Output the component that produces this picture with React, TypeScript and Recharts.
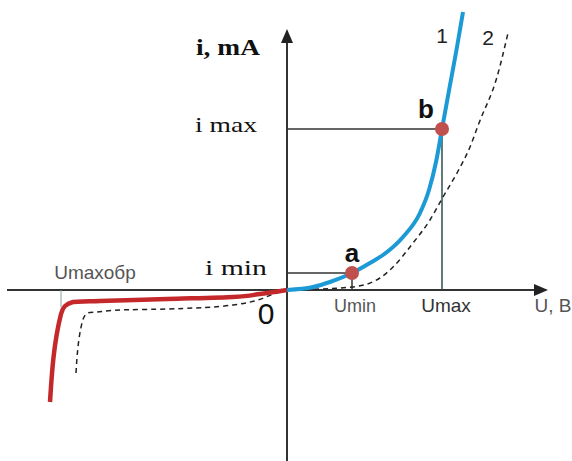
import React from "react";
import { ComposedChart, Line, XAxis, YAxis, ReferenceLine, ReferenceDot } from "recharts";

// Forward branch, curve 1 (U, i)
const fwd1U = [0, 26, 43, 65, 83, 96, 116, 133, 142, 149, 155, 163, 170, 176];
const fwd1I = [0, 3, 8, 17, 27, 35, 53, 77, 100, 128, 161, 205, 243, 278];
// Forward branch, curve 2 (dashed)
const fwd2U = [0, 65, 93, 106, 126, 143, 156, 170, 183, 192, 210, 221];
const fwd2I = [0, 3, 12, 23, 47, 70, 93, 117, 143, 167, 213, 257];
// Reverse branch, curve 1 (red)
const rev1U = [-237, -226, -222, -214, -187, -120, -54, -27, 0];
const rev1I = [-112, -24, -16, -12, -11, -9, -7, -4, 0];
// Reverse branch, curve 2 (dashed)
const rev2U = [-211, -205, -200, -190, -167, -120, -54, -10, 0];
const rev2I = [-83, -33, -23, -22, -20, -19, -15, -3, 0];

// Key points
const Umin = 65, Imin = 17;
const Umax = 155, Imax = 161;
const UmaxRev = -226, IrevTick = -17;

const zip = (u: number[], i: number[]) => u.map((v, k) => ({ u: v, i: i[k] }));
const d1 = zip(fwd1U, fwd1I);
const d2 = zip(fwd2U, fwd2I);
const r1 = zip(rev1U, rev1I);
const r2 = zip(rev2U, rev2I);

const X_DOMAIN: [number, number] = [-287, 285];
const Y_DOMAIN: [number, number] = [-171, 290];

const ArrowLine = (dir: "x" | "y") => (p: any) => {
  const { x1, y1, x2, y2 } = p;
  if (dir === "x") {
    const tx = Math.max(x1, x2), ty = y1;
    return (
      <g>
        <line x1={Math.min(x1, x2)} y1={y1} x2={tx - 6} y2={y2} stroke="#333" strokeWidth={2} />
        <polygon points={`${tx},${ty} ${tx - 14},${ty - 6} ${tx - 14},${ty + 6}`} fill="#222" />
      </g>
    );
  }
  const tx = x1, ty = Math.min(y1, y2);
  return (
    <g>
      <line x1={x1} y1={Math.max(y1, y2)} x2={x2} y2={ty + 6} stroke="#333" strokeWidth={2} />
      <polygon points={`${tx},${ty} ${tx - 6},${ty + 14} ${tx + 6},${ty + 14}`} fill="#222" />
    </g>
  );
};

type TL = {
  u: number; i: number; text: string; size: number; family: string;
  weight?: string; fill?: string; len?: number;
};

const labels: TL[] = [
  { u: -59, i: 235, text: "i, mA", size: 23, family: "Liberation Serif", weight: "bold", fill: "#111", len: 64 },
  { u: -61, i: 158, text: "i max", size: 22, family: "Liberation Serif", fill: "#111", len: 62 },
  { u: -51, i: 15, text: "i min", size: 22, family: "Liberation Serif", fill: "#111", len: 62 },
  { u: -192, i: 11, text: "Umaxобр", size: 19, family: "Liberation Sans", fill: "#555" },
  { u: -21, i: -34, text: "0", size: 30, family: "Liberation Sans", fill: "#111" },
  { u: 68, i: -22, text: "Umin", size: 18, family: "Liberation Sans", fill: "#555" },
  { u: 159, i: -22, text: "Umax", size: 19, family: "Liberation Sans", fill: "#333" },
  { u: 266, i: -22, text: "U, B", size: 19, family: "Liberation Sans", fill: "#555" },
  { u: 155, i: 247, text: "1", size: 21, family: "Liberation Sans", fill: "#222" },
  { u: 201, i: 245, text: "2", size: 21, family: "Liberation Sans", fill: "#222" },
  { u: 65, i: 28, text: "a", size: 26, family: "Liberation Sans", weight: "bold", fill: "#111" },
  { u: 139, i: 172, text: "b", size: 26, family: "Liberation Sans", weight: "bold", fill: "#111" },
];

const textShape = (l: TL) => (p: any) => (
  <text
    x={p.cx}
    y={p.cy}
    textAnchor="middle"
    fontSize={l.size}
    fontFamily={l.family}
    fontWeight={l.weight || "normal"}
    fill={l.fill}
    {...(l.len ? { textLength: l.len, lengthAdjust: "spacingAndGlyphs" } : {})}
  >
    {l.text}
  </text>
);

export default function App() {
  return (
    <div style={{ position: "absolute", left: 0, top: 0, background: "#fff" }}>
      <ComposedChart width={572} height={461} margin={{ top: 0, right: 0, bottom: 0, left: 0 }}>
        <XAxis type="number" dataKey="u" domain={X_DOMAIN} hide allowDataOverflow />
        <YAxis type="number" dataKey="i" domain={Y_DOMAIN} hide allowDataOverflow />
        {/* axes */}
        <ReferenceLine segment={[{ x: -280, y: 0 }, { x: 261, y: 0 }]} shape={ArrowLine("x")} ifOverflow="visible" />
        <ReferenceLine segment={[{ x: 0, y: -171 }, { x: 0, y: 261 }]} shape={ArrowLine("y")} ifOverflow="visible" />
        {/* guide lines */}
        <ReferenceLine segment={[{ x: 0, y: Imax }, { x: Umax, y: Imax }]} stroke="#333" strokeWidth={1.5} ifOverflow="visible" />
        <ReferenceLine segment={[{ x: Umax, y: 0 }, { x: Umax, y: Imax }]} stroke="#2f4f4f" strokeWidth={1.5} ifOverflow="visible" />
        <ReferenceLine segment={[{ x: 0, y: Imin }, { x: Umin, y: Imin }]} stroke="#333" strokeWidth={1.5} ifOverflow="visible" />
        <ReferenceLine segment={[{ x: Umin, y: 0 }, { x: Umin, y: Imin }]} stroke="#333" strokeWidth={1.5} ifOverflow="visible" />
        <ReferenceLine segment={[{ x: UmaxRev, y: 0 }, { x: UmaxRev, y: IrevTick }]} stroke="#8aa0a0" strokeWidth={1} ifOverflow="visible" />
        {/* curves */}
        <Line data={d2} dataKey="i" type="monotone" stroke="#222" strokeWidth={1.5} strokeDasharray="5 4" dot={false} activeDot={false} isAnimationActive={false} />
        <Line data={r2} dataKey="i" type="monotoneY" stroke="#222" strokeWidth={1.5} strokeDasharray="5 4" dot={false} activeDot={false} isAnimationActive={false} />
        <Line data={r1} dataKey="i" type="monotoneY" stroke="#c4282a" strokeWidth={4.5} dot={false} activeDot={false} isAnimationActive={false} />
        <Line data={d1} dataKey="i" type="monotone" stroke="#1b9ad6" strokeWidth={4} dot={false} activeDot={false} isAnimationActive={false} />
        {/* points */}
        <ReferenceDot x={Umin} y={Imin} r={7} fill="#c0504d" stroke="none" ifOverflow="visible" />
        <ReferenceDot x={Umax} y={Imax} r={7} fill="#c0504d" stroke="none" ifOverflow="visible" />
        {labels.map((l, k) => (
          <ReferenceDot key={k} x={l.u} y={l.i} r={1} shape={textShape(l)} ifOverflow="visible" />
        ))}
      </ComposedChart>
    </div>
  );
}
